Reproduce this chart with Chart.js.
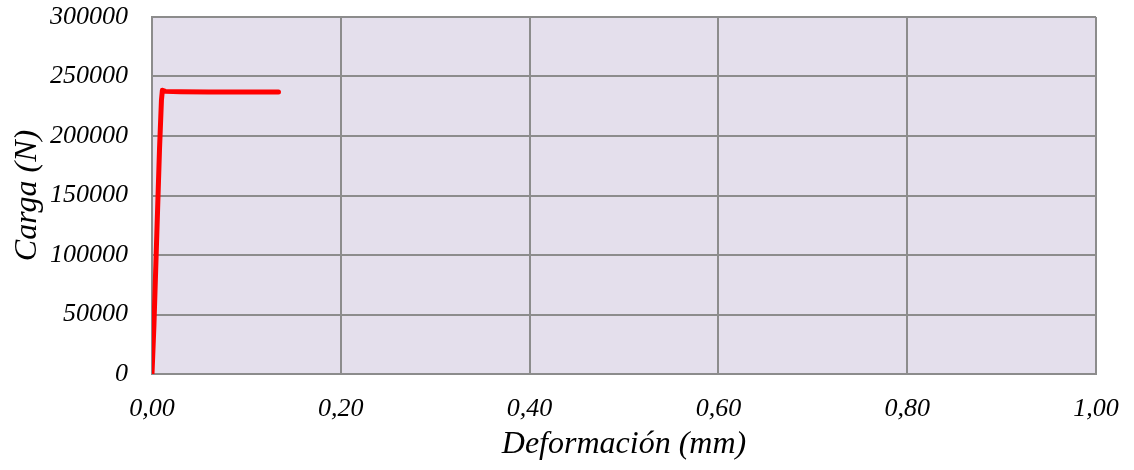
<!DOCTYPE html>
<html>
<head>
<meta charset="utf-8">
<script src="https://cdn.jsdelivr.net/npm/chart.js@4"></script>
<style>
  html, body { margin: 0; padding: 0; background: #fff; }
  #wrap { width: 1134px; height: 470px; }
</style>
</head>
<body>
<div id="wrap"><canvas id="myChart" width="1134" height="470"></canvas></div>
<script>
// deformation (mm) and load (N)
var deformacion = [0, 0.002, 0.004, 0.006, 0.008, 0.010, 0.011, 0.014, 0.03, 0.06, 0.09, 0.12, 0.134];
var carga = [0, 40000, 90000, 140000, 190000, 230000, 238500, 237500, 237200, 237000, 237000, 237000, 237000];
var xTicks = [0, 0.2, 0.4, 0.6, 0.8, 1.0];
var yTicks = [0, 50000, 100000, 150000, 200000, 250000, 300000];

var points = deformacion.map(function (d, i) { return {x: d, y: carga[i]}; });

var plotBg = {
    id: 'plotBg',
    beforeDraw: function (chart) {
        var a = chart.chartArea, ctx = chart.ctx;
        ctx.save();
        ctx.fillStyle = '#E4DFEC';
        ctx.fillRect(a.left, a.top, a.right - a.left, a.bottom - a.top);
        ctx.restore();
    }
};

var font = {family: '"Liberation Serif", "Times New Roman", serif', style: 'italic'};

var ctx = document.getElementById('myChart');
new Chart(ctx, {
    type: 'line',
    data: {
        datasets: [{
            data: points,
            borderColor: '#FF0000',
            borderWidth: 5,
            pointRadius: 0,
            borderCapStyle: 'round',
            borderJoinStyle: 'round',
            tension: 0
        }]
    },
    options: {
        responsive: false,
        animation: false,
        layout: {padding: {left: 8, right: 38, top: 17, bottom: 0}},
        plugins: {legend: {display: false}, tooltip: {enabled: false}},
        scales: {
            x: {
                type: 'linear',
                min: 0, max: 1,
                afterBuildTicks: function (axis) { axis.ticks = xTicks.map(function (v) { return {value: v}; }); },
                afterFit: function (axis) { axis.height = 96; axis.paddingLeft = 0; axis.paddingRight = 0; },
                ticks: {
                    color: '#000',
                    font: Object.assign({size: 26}, font),
                    padding: 20,
                    maxRotation: 0,
                    callback: function (v) { return v.toFixed(2).replace('.', ','); }
                },
                grid: {color: '#8C8C8C', lineWidth: 2, drawTicks: false},
                border: {color: '#8C8C8C', width: 2},
                title: {display: true, text: 'Deformación (mm)', color: '#000', font: Object.assign({size: 32}, font), padding: {top: 0, bottom: 6}}
            },
            y: {
                min: 0, max: 300000,
                afterBuildTicks: function (axis) { axis.ticks = yTicks.map(function (v) { return {value: v}; }); },
                afterFit: function (axis) { axis.width = 144; axis.paddingTop = 0; axis.paddingBottom = 0; },
                ticks: {
                    color: '#000',
                    font: Object.assign({size: 26}, font),
                    padding: 24,
                    callback: function (v) { return String(v); }
                },
                grid: {color: '#8C8C8C', lineWidth: 2, drawTicks: false},
                border: {color: '#8C8C8C', width: 2},
                title: {display: true, text: 'Carga (N)', color: '#000', font: Object.assign({size: 32}, font), padding: {top: 0, bottom: 0}}
            }
        }
    },
    plugins: [plotBg]
});
</script>
</body>
</html>
